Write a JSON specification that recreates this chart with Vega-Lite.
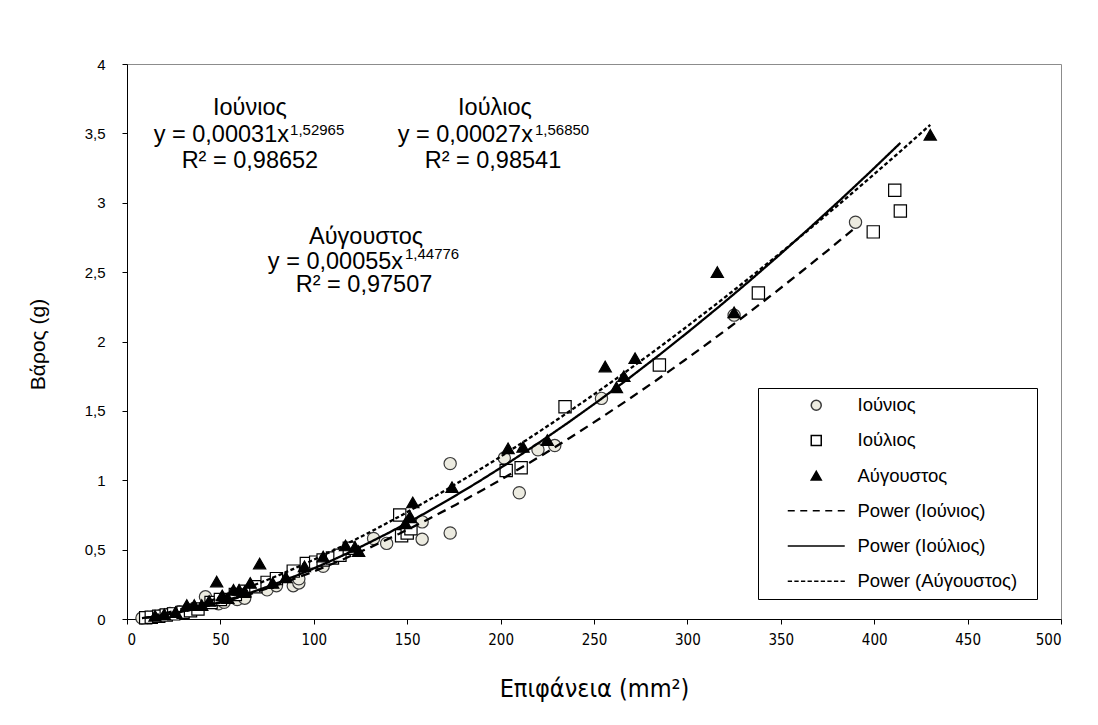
{
  "$schema": "https://vega.github.io/schema/vega-lite/v6.json",
  "width": 934,
  "height": 555,
  "autosize": "none",
  "padding": {"left": 127, "top": 64, "right": 37, "bottom": 106},
  "background": "white",
  "config": {
    "view": {"stroke": "#8c8c8c", "strokeWidth": 1},
    "font": "Liberation Sans"
  },
  "datasets": {
    "pts": [
      {"m":"Ιούνιος","x":8,"y":0.0065},{"m":"Ιούνιος","x":11,"y":0.0105},{"m":"Ιούνιος","x":14,"y":0.015},{"m":"Ιούνιος","x":18,"y":0.024},{"m":"Ιούνιος","x":23,"y":0.04},{"m":"Ιούνιος","x":28,"y":0.05},{"m":"Ιούνιος","x":35,"y":0.07},{"m":"Ιούνιος","x":42,"y":0.16},{"m":"Ιούνιος","x":49,"y":0.11},{"m":"Ιούνιος","x":52,"y":0.12},{"m":"Ιούνιος","x":59,"y":0.14},{"m":"Ιούνιος","x":63,"y":0.15},{"m":"Ιούνιος","x":75,"y":0.21},{"m":"Ιούνιος","x":80,"y":0.24},{"m":"Ιούνιος","x":89,"y":0.24},{"m":"Ιούνιος","x":92,"y":0.26},{"m":"Ιούνιος","x":92,"y":0.29},{"m":"Ιούνιος","x":105,"y":0.38},{"m":"Ιούνιος","x":132,"y":0.58},{"m":"Ιούνιος","x":139,"y":0.545},{"m":"Ιούνιος","x":158,"y":0.70},{"m":"Ιούνιος","x":158,"y":0.575},{"m":"Ιούνιος","x":173,"y":1.12},{"m":"Ιούνιος","x":173,"y":0.62},{"m":"Ιούνιος","x":202,"y":1.16},{"m":"Ιούνιος","x":210,"y":0.91},{"m":"Ιούνιος","x":220,"y":1.22},{"m":"Ιούνιος","x":229,"y":1.25},{"m":"Ιούνιος","x":254,"y":1.59},{"m":"Ιούνιος","x":325,"y":2.19},{"m":"Ιούνιος","x":390,"y":2.86},
      {"m":"Ιούλιος","x":10,"y":0.0088},{"m":"Ιούλιος","x":13,"y":0.0133},{"m":"Ιούλιος","x":17,"y":0.0202},{"m":"Ιούλιος","x":21,"y":0.0282},{"m":"Ιούλιος","x":25,"y":0.037},{"m":"Ιούλιος","x":30,"y":0.049},{"m":"Ιούλιος","x":34,"y":0.06},{"m":"Ιούλιος","x":38,"y":0.0715},{"m":"Ιούλιος","x":45,"y":0.119},{"m":"Ιούλιος","x":50,"y":0.14},{"m":"Ιούλιος","x":58,"y":0.177},{"m":"Ιούλιος","x":63,"y":0.2},{"m":"Ιούλιος","x":69,"y":0.232},{"m":"Ιούλιος","x":75,"y":0.264},{"m":"Ιούλιος","x":80,"y":0.291},{"m":"Ιούλιος","x":89,"y":0.345},{"m":"Ιούλιος","x":96,"y":0.40},{"m":"Ιούλιος","x":101,"y":0.41},{"m":"Ιούλιος","x":105,"y":0.425},{"m":"Ιούλιος","x":110,"y":0.44},{"m":"Ιούλιος","x":114,"y":0.46},{"m":"Ιούλιος","x":119,"y":0.51},{"m":"Ιούλιος","x":146,"y":0.75},{"m":"Ιούλιος","x":147,"y":0.60},{"m":"Ιούλιος","x":150,"y":0.62},{"m":"Ιούλιος","x":152,"y":0.65},{"m":"Ιούλιος","x":203,"y":1.07},{"m":"Ιούλιος","x":211,"y":1.09},{"m":"Ιούλιος","x":234.5,"y":1.53},{"m":"Ιούλιος","x":285,"y":1.83},{"m":"Ιούλιος","x":338,"y":2.35},{"m":"Ιούλιος","x":399.5,"y":2.79},{"m":"Ιούλιος","x":411,"y":3.09},{"m":"Ιούλιος","x":414,"y":2.94},
      {"m":"Αύγουστος","x":15,"y":0.023},{"m":"Αύγουστος","x":20,"y":0.0345},{"m":"Αύγουστος","x":26,"y":0.05},{"m":"Αύγουστος","x":32,"y":0.10},{"m":"Αύγουστος","x":36,"y":0.10},{"m":"Αύγουστος","x":40,"y":0.1},{"m":"Αύγουστος","x":44,"y":0.13},{"m":"Αύγουστος","x":48,"y":0.27},{"m":"Αύγουστος","x":51,"y":0.17},{"m":"Αύγουστος","x":54,"y":0.15},{"m":"Αύγουστος","x":57,"y":0.21},{"m":"Αύγουστος","x":60,"y":0.21},{"m":"Αύγουστος","x":63,"y":0.2},{"m":"Αύγουστος","x":66,"y":0.26},{"m":"Αύγουστος","x":71,"y":0.40},{"m":"Αύγουστος","x":78,"y":0.26},{"m":"Αύγουστος","x":85,"y":0.3},{"m":"Αύγουστος","x":95,"y":0.38},{"m":"Αύγουστος","x":105,"y":0.45},{"m":"Αύγουστος","x":117,"y":0.53},{"m":"Αύγουστος","x":122,"y":0.52},{"m":"Αύγουστος","x":124,"y":0.49},{"m":"Αύγουστος","x":149,"y":0.69},{"m":"Αύγουστος","x":151.5,"y":0.74},{"m":"Αύγουστος","x":153,"y":0.84},{"m":"Αύγουστος","x":174,"y":0.95},{"m":"Αύγουστος","x":204,"y":1.23},{"m":"Αύγουστος","x":212,"y":1.24},{"m":"Αύγουστος","x":225,"y":1.29},{"m":"Αύγουστος","x":256,"y":1.82},{"m":"Αύγουστος","x":262,"y":1.67},{"m":"Αύγουστος","x":266,"y":1.75},{"m":"Αύγουστος","x":272,"y":1.88},{"m":"Αύγουστος","x":316,"y":2.50},{"m":"Αύγουστος","x":325,"y":2.21},{"m":"Αύγουστος","x":430,"y":3.49}
    ],
    "notes": [
      {"t":"Ιούνιος","r":"head","x":65.8,"y":3.636},
      {"t":"y = 0,00031x","r":"eq","x":86.7,"y":3.438},
      {"t":"1,52965","r":"exp","x":87.3,"y":3.485},
      {"t":"R² = 0,98652","r":"head","x":65.8,"y":3.254},
      {"t":"Ιούλιος","r":"head","x":197,"y":3.636},
      {"t":"y = 0,00027x","r":"eq","x":217.3,"y":3.438},
      {"t":"1,56850","r":"exp","x":218.4,"y":3.485},
      {"t":"R² = 0,98541","r":"head","x":195.9,"y":3.254},
      {"t":"Αύγουστος","r":"head","x":128,"y":2.706},
      {"t":"y = 0,00055x","r":"eq","x":147.8,"y":2.526},
      {"t":"1,44776","r":"exp","x":148.8,"y":2.595},
      {"t":"R² = 0,97507","r":"head","x":126.9,"y":2.36}
    ]
  },
  "layer": [
    {
      "data": {"name": "pts"},
      "mark": {"type": "point", "filled": true, "opacity": 1, "strokeWidth": 1.2, "size": 150},
      "encoding": {
        "x": {"field": "x", "type": "quantitative", "scale": {"domain": [0, 500], "nice": false},
          "axis": {"values": [0,50,100,150,200,250,300,350,400,450,500], "grid": false, "domainColor": "black", "tickColor": "black", "tickSize": 5,
            "labelFont": "Liberation Sans Narrow, DejaVu Sans Condensed, Liberation Sans", "labelFontSize": 15, "labelColor": "black", "labelPadding": 8,
            "title": "Επιφάνεια (mm²)", "titleFont": "Liberation Sans Narrow, DejaVu Sans Condensed, Liberation Sans", "titleFontSize": 25, "titleFontWeight": "normal", "titleColor": "black",
            "titleX": 467, "titleY": 69, "titleBaseline": "middle"}},
        "y": {"field": "y", "type": "quantitative", "scale": {"domain": [0, 4], "nice": false},
          "axis": {"values": [0,0.5,1,1.5,2,2.5,3,3.5,4], "grid": false, "domainColor": "black", "tickColor": "black", "tickSize": 5,
            "labelExpr": "replace(toString(datum.value), '.', ',')",
            "labelFont": "Liberation Sans", "labelFontSize": 15, "labelColor": "black", "labelPadding": 17,
            "title": "Βάρος (g)", "titleFont": "Liberation Sans", "titleFontSize": 21, "titleFontWeight": "normal", "titleColor": "black",
            "titleX": -89, "titleY": 280, "titleBaseline": "middle"}},
        "shape": {"field": "m", "type": "nominal",
          "scale": {"domain": ["Ιούνιος","Ιούλιος","Αύγουστος","Power (Ιούνιος)","Power (Ιούλιος)","Power (Αύγουστος)"],
            "range": ["circle","square","triangle-up","M-5.7,0H-4.3M-3.2,0H-1.8M-0.7,0H0.7M1.8,0H3.2M4.3,0H5.7","M-5.7,0H5.7","M-5.7,0H-4.84M-4.38,0H-3.52M-3.06,0H-2.2M-1.74,0H-0.88M-0.42,0H0.44M0.9,0H1.76M2.22,0H3.08M3.54,0H4.4M4.86,0H5.72"]},
          "legend": {"orient": "none", "legendX": 631, "legendY": 324, "title": "\u00a0", "titleOrient": "right", "titlePadding": 12, "titleFontSize": 10,
            "strokeColor": "black", "fillColor": "white", "padding": 8,
            "labelFont": "Liberation Sans", "labelFontSize": 18.5, "labelColor": "black", "labelOffset": 32, "rowPadding": 16.2, "symbolSize": 100, "symbolStrokeWidth": 1.5, "symbolOffset": 41}},
        "fill": {"field": "m", "type": "nominal",
          "scale": {"domain": ["Ιούνιος","Ιούλιος","Αύγουστος","Power (Ιούνιος)","Power (Ιούλιος)","Power (Αύγουστος)"],
            "range": ["#ecebe0","white","black","transparent","transparent","transparent"]}},
        "stroke": {"field": "m", "type": "nominal",
          "scale": {"domain": ["Ιούνιος","Ιούλιος","Αύγουστος","Power (Ιούνιος)","Power (Ιούλιος)","Power (Αύγουστος)"],
            "range": ["#3a3a3a","black","black","black","black","black"]}}
      }
    },
    {
      "data": {"name": "pts"},
      "transform": [{"regression": "y", "on": "x", "groupby": ["m"], "method": "pow"}],
      "mark": {"type": "line", "stroke": "black", "strokeWidth": 2.3},
      "encoding": {
        "x": {"field": "x", "type": "quantitative"},
        "y": {"field": "y", "type": "quantitative"},
        "strokeDash": {"field": "m", "type": "nominal",
          "scale": {"domain": ["Ιούνιος","Ιούλιος","Αύγουστος"], "range": [[9,6],[1,0],[4,2.5]]}, "legend": null}
      }
    },
    {
      "data": {"name": "notes"},
      "transform": [{"filter": "datum.r === 'head'"}],
      "mark": {"type": "text", "align": "center", "baseline": "alphabetic", "fontSize": 23.5, "font": "Liberation Sans", "color": "black"},
      "encoding": {
        "x": {"field": "x", "type": "quantitative"},
        "y": {"field": "y", "type": "quantitative"},
        "text": {"field": "t"}
      }
    },
    {
      "data": {"name": "notes"},
      "transform": [{"filter": "datum.r === 'eq'"}],
      "mark": {"type": "text", "align": "right", "baseline": "alphabetic", "fontSize": 23.5, "font": "Liberation Sans", "color": "black"},
      "encoding": {
        "x": {"field": "x", "type": "quantitative"},
        "y": {"field": "y", "type": "quantitative"},
        "text": {"field": "t"}
      }
    },
    {
      "data": {"name": "notes"},
      "transform": [{"filter": "datum.r === 'exp'"}],
      "mark": {"type": "text", "align": "left", "baseline": "alphabetic", "fontSize": 15, "font": "Liberation Sans", "color": "black"},
      "encoding": {
        "x": {"field": "x", "type": "quantitative"},
        "y": {"field": "y", "type": "quantitative"},
        "text": {"field": "t"}
      }
    }
  ]
}
